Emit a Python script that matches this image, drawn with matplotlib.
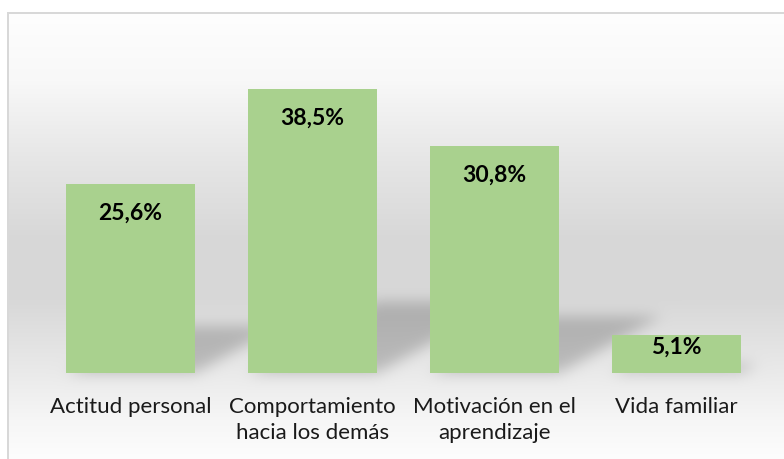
import numpy as np
import matplotlib.pyplot as plt
from matplotlib.path import Path

plt.rcParams['font.family'] = ['Lato', 'DejaVu Sans']

categories = ['Actitud personal', 'Comportamiento\nhacia los demás',
              'Motivación en el\naprendizaje', 'Vida familiar']
values = [25.6, 38.5, 30.8, 5.1]
value_labels = ['25,6%', '38,5%', '30,8%', '5,1%']

W, H = 784, 459
fig = plt.figure(figsize=(W / 100, H / 100), dpi=100)

# plot area in pixels: x from 39.5 to 767.5, baseline at row 373
ax = fig.add_axes([39.5 / W, (H - 373) / H, 728 / W, 332 / H], zorder=2)
ax.set_facecolor('none')
ax.set_xlim(-0.5, 3.5)
ax.set_ylim(0, 45)
x = np.arange(len(values))
bars = ax.bar(x, values, width=0.71, color='#A9D18E', zorder=3)

for xi, v, lab in zip(x, values, value_labels):
    off = -21 if v > 10 else -8.5
    ax.annotate(lab, (xi, v), xytext=(0, off), textcoords='offset points',
                ha='center', va='center', fontsize=16.5, fontweight='bold',
                color='#000000', zorder=4)

ax.set_xticks(x, categories)
ax.tick_params(axis='x', length=0, pad=17.5, labelsize=16, labelcolor='#1a1a1a')
ax.set_yticks([])
for s in ax.spines.values():
    s.set_visible(False)
for t in ax.get_xticklabels():
    t.set_linespacing(1.35)

# background: vertical gray gradient inside the frame
rows = np.arange(H)
stops_y = [12, 80, 160, 240, 300, 373, 420, 459]
stops_v = [254, 248, 230, 215, 216, 234, 246, 253]
col = np.interp(rows, stops_y, stops_v) / 255.0
bg = np.ones((H, W))
bg[12:, 7:] = col[12:, None]

# soft perspective shadows cast to the right of each bar
cc, rr = np.meshgrid(np.arange(W) + 0.5, np.arange(H) + 0.5)
pts = np.column_stack([cc.ravel(), rr.ravel()])
mask = np.zeros(H * W)
for b in bars:
    (x0, y0), (x1, y1) = ax.transData.transform([(b.get_x(), 0),
                                                 (b.get_x() + b.get_width(), b.get_height())])
    rb = H - y0
    h = y1 - y0
    poly = Path([(x0, rb), (x1, rb), (x1 + 0.45 * h, rb - 0.25 * h),
                 (x0 + 0.45 * h, rb - 0.25 * h), (x0, rb)])
    mask = np.maximum(mask, poly.contains_points(pts))
mask = mask.reshape(H, W).astype(float)


def blur(a, sigma):
    r = int(3 * sigma)
    k = np.exp(-0.5 * (np.arange(-r, r + 1) / sigma) ** 2)
    k /= k.sum()
    a = np.apply_along_axis(lambda v: np.convolve(v, k, mode='same'), 0, a)
    a = np.apply_along_axis(lambda v: np.convolve(v, k, mode='same'), 1, a)
    return a


mask = blur(mask, 7)
bg = bg * (1 - 0.2 * mask)

# frame lines
bg[12:14, 7:] = 0.85
bg[12:, 7:9] = 0.85

rgb = np.dstack([bg, bg, bg])
bgax = fig.add_axes([0, 0, 1, 1], zorder=0)
bgax.imshow(rgb, extent=(0, W, H, 0), aspect='auto', interpolation='none')
bgax.axis('off')

fig.savefig('out.png', dpi=100)
